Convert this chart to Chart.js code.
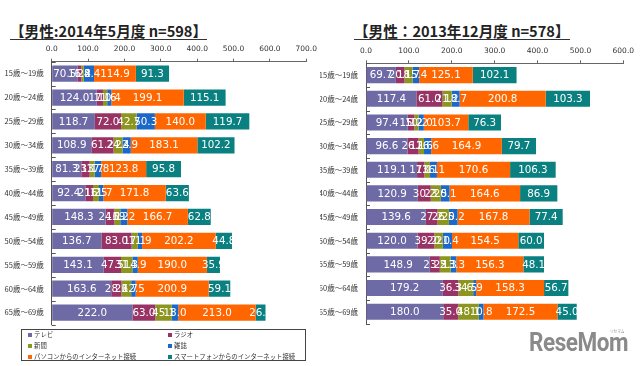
<!DOCTYPE html>
<html>
<head>
<meta charset="utf-8">
<script src="https://cdn.jsdelivr.net/npm/chart.js@4.4.1/dist/chart.umd.min.js"></script>
<style>
  body { margin: 0; width: 640px; height: 366px; background: #fff; position: relative; overflow: hidden;
         font-family: "Noto Sans CJK JP", sans-serif; }
  .title { position: absolute; top: 23px; font-weight: bold; font-size: 14.6px; line-height: 15px; color: #222;
           border-bottom: 1.5px solid #333; white-space: nowrap; padding-bottom: 1px; }
  canvas { position: absolute; }
  .legend { position: absolute; left: 21px; top: 329px; width: 285px; height: 32px; border: 1px solid #444;
            box-sizing: border-box; font-size: 6.4px; color: #333; }
  .legend div { position: absolute; white-space: nowrap; line-height: 8px; }
  .legend span { display: inline-block; width: 4px; height: 4px; margin-right: 2px; vertical-align: 0px; }
  .logo { position: absolute; left: 529px; top: 328px; font-family: Roboto, sans-serif; font-weight: bold;
          font-size: 25px; color: #8a8a8a; letter-spacing: -0.5px; transform: scaleX(0.9); transform-origin: 0 0; }
  .logo small { position: absolute; right: 4px; top: 0px; font-size: 4px; font-weight: normal;
                font-family: "Noto Sans CJK JP"; letter-spacing: 0; }
</style>
</head>
<body>
<div class="title" style="left:10px">【男性:2014年5月度 n=598】</div>
<div class="title" style="left:354px">【男性：2013年12月度 n=578】</div>

<canvas id="may14" width="322" height="297" style="left:0;top:40px"></canvas>
<canvas id="dec13" width="322" height="296" style="left:318px;top:40px"></canvas>

<div class="legend" id="legend"></div>
<div class="logo">ReseMom<small>リセマム</small></div>

<script>
const ages = ['15歳～19歳','20歳～24歳','25歳～29歳','30歳～34歳','35歳～39歳','40歳～44歳',
              '45歳～49歳','50歳～54歳','55歳～59歳','60歳～64歳','65歳～69歳'];
const media = ['テレビ','ラジオ','新聞','雑誌','パソコンからのインターネット接続','スマートフォンからのインターネット接続'];
const colors = ['#6d6aa6','#993366','#8c961e','#1c68c8','#ff6600','#0a8080'];

// 2014年5月 (n=598)
const tv14    = [70.5,124.0,118.7,108.9,81.3,92.4,148.3,136.7,143.1,163.6,222.0];
const radio14 = [11.2,17.0,72.0,61.2,23.1,21.2,24.1,83.0,47.5,28.2,63.0];
const news14  = [6.4,11.6,42.7,24.4,13.7,16.5,16.2,17.1,31.3,26.7,45.1];
const mag14   = [28.4,11.4,50.3,22.9,17.8,11.7,19.2,11.9,14.9,12.5,18.0];
const pc14    = [114.9,199.1,140.0,183.1,123.8,171.8,166.7,202.2,190.0,200.9,213.0];
const sp14    = [91.3,115.1,119.7,102.2,95.8,63.6,62.8,44.8,35.9,59.1,26.8];

// 2013年12月 (n=578)
const tv13    = [69.7,117.4,97.4,96.6,119.1,120.9,139.6,120.0,148.9,179.2,180.0];
const radio13 = [20.1,61.0,15.2,26.1,17.1,30.2,27.2,39.2,23.2,36.3,35.0];
const news13  = [18.7,21.2,10.2,12.6,13.1,23.5,26.5,20.0,25.3,34.5,48.1];
const mag13   = [15.4,18.7,12.0,16.6,16.1,20.1,20.2,21.4,13.3,6.9,10.8];
const pc13    = [125.1,200.8,103.7,164.9,170.6,164.6,167.8,154.5,156.3,158.3,172.5];
const sp13    = [102.1,103.3,76.3,79.7,106.3,86.9,77.4,60.0,48.1,56.7,45.0];

const xTicks14 = [0,100,200,300,400,500,600,700];
const xTicks13 = [0,100,200,300,400,500,600];

// white value labels in the middle of each segment
const valueLabels = {
  id: 'valueLabels',
  afterDatasetsDraw(chart) {
    const ctx = chart.ctx;
    ctx.save();
    ctx.font = '10.3px "DejaVu Sans"';
    ctx.fillStyle = '#fff';
    ctx.textAlign = 'center';
    ctx.textBaseline = 'middle';
    chart.data.datasets.forEach((ds, i) => {
      chart.getDatasetMeta(i).data.forEach((bar, j) => {
        ctx.fillText(ds.data[j].toFixed(1), (bar.x + bar.base) / 2, bar.y + 0.5);
      });
    });
    ctx.restore();
  }
};

// small inside tick marks on the category axis
const catTicks = {
  id: 'catTicks',
  afterDraw(chart) {
    const ctx = chart.ctx, a = chart.chartArea;
    const step = (a.bottom - a.top) / ages.length;
    ctx.save();
    ctx.strokeStyle = '#555';
    ctx.lineWidth = 1;
    for (let i = 0; i <= ages.length; i++) {
      const yy = Math.round(a.top + i * step) + 0.5;
      ctx.beginPath(); ctx.moveTo(a.left, yy); ctx.lineTo(a.left + 4, yy); ctx.stroke();
    }
    ctx.restore();
  }
};

function makeChart(id, series, ticks, pad, axisH, yW) {
  new Chart(document.getElementById(id), {
    type: 'bar',
    data: {
      labels: ages,
      datasets: series.map((d, i) => ({
        label: media[i], data: d, backgroundColor: colors[i],
        categoryPercentage: 1, barPercentage: 0.68
      }))
    },
    options: {
      indexAxis: 'y',
      responsive: false,
      animation: false,
      layout: { padding: pad },
      plugins: { legend: { display: false }, tooltip: { enabled: false } },
      scales: {
        x: {
          position: 'top', stacked: true, min: ticks[0], max: ticks[ticks.length - 1],
          afterBuildTicks: s => { s.ticks = ticks.map(v => ({ value: v })); },
          afterFit: s => { s.height = axisH; },
          grid: { drawOnChartArea: false, tickLength: 3, color: '#666' },
          border: { display: true, color: '#666' },
          ticks: { padding: 5, color: '#333', font: { family: 'DejaVu Sans', size: 7.5 },
                   callback: v => Number(v).toFixed(1) }
        },
        y: {
          stacked: true,
          afterFit: s => { s.width = yW; },
          grid: { display: false, drawTicks: false },
          border: { display: true, color: '#555' },
          ticks: { padding: 8, color: '#333', font: { family: 'Noto Sans CJK JP', size: 7.5 } }
        }
      }
    },
    plugins: [valueLabels, catTicks]
  });
}

makeChart('may14', [tv14, radio14, news14, mag14, pc14, sp14], xTicks14,
          { left: 2, right: 14, top: 0, bottom: 0 }, 21.7, 49.7);
makeChart('dec13', [tv13, radio13, news13, mag13, pc13, sp13], xTicks13,
          { left: 2, right: 16.7, top: 0, bottom: 0 }, 23.3, 46);

// legend: two columns, three rows
const lg = document.getElementById('legend');
media.forEach((m, i) => {
  const d = document.createElement('div');
  d.style.left = (i % 2 ? 146 : 6) + 'px';
  d.style.top = (1 + Math.floor(i / 2) * 11) + 'px';
  d.innerHTML = '<span style="background:' + colors[i] + '"></span>' + m;
  lg.appendChild(d);
});
</script>
</body>
</html>
